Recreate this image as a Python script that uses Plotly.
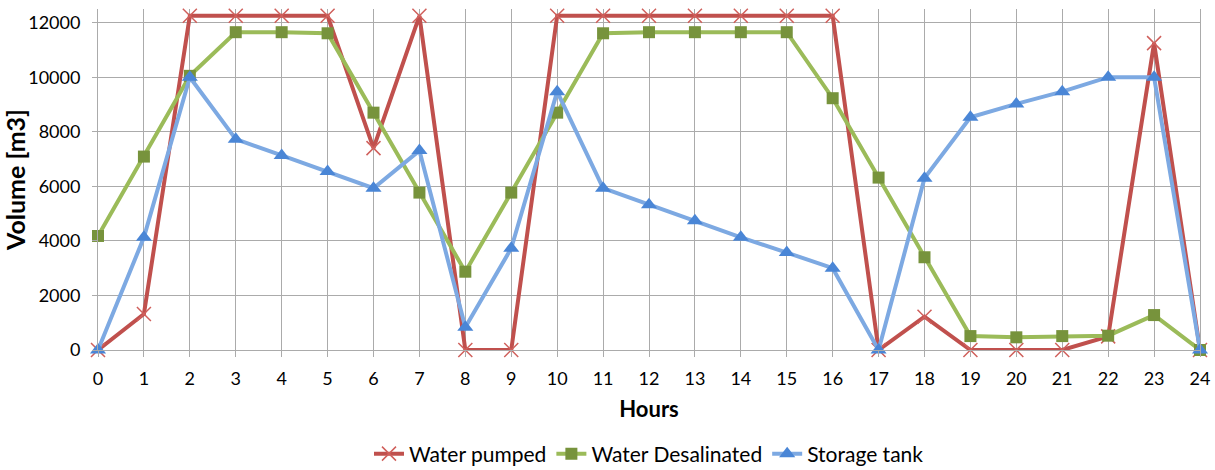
import plotly.graph_objects as go

hours = list(range(25))
water_pumped = [0, 1320, 12250, 12250, 12250, 12250, 7400, 12250, 0, 0,
                12250, 12250, 12250, 12250, 12250, 12250, 12250, 0, 1220, 0,
                0, 0, 500, 11250, 0]
water_desalinated = [4180, 7090, 10050, 11650, 11650, 11610, 8700, 5770, 2870, 5770,
                     8700, 11610, 11650, 11650, 11650, 11650, 9230, 6320, 3400, 510,
                     465, 510, 525, 1280, 0]
storage_tank = [0, 4130, 10000, 7730, 7130, 6540, 5930, 7310, 830, 3730,
                9470, 5930, 5320, 4740, 4130, 3570, 3000, 0, 6300, 8530,
                9020, 9470, 10000, 10000, 0]
y_ticks = [0, 2000, 4000, 6000, 8000, 10000, 12000]

FONT = "Lato"

fig = go.Figure()
fig.add_trace(go.Scatter(
    x=hours, y=water_pumped, name="Water pumped", mode="lines+markers",
    line=dict(color="#C0504D", width=4),
    marker=dict(symbol="x-thin-open", size=14, color="#D0605C",
                line=dict(color="#D0605C", width=1.5)),
    cliponaxis=False))
fig.add_trace(go.Scatter(
    x=hours, y=water_desalinated, name="Water Desalinated", mode="lines+markers",
    line=dict(color="#9BBB59", width=4),
    marker=dict(symbol="square", size=12, color="#77933C"),
    cliponaxis=False))
fig.add_trace(go.Scatter(
    x=hours, y=storage_tank, name="Storage tank", mode="lines+markers",
    line=dict(color="#7DA9E2", width=4),
    marker=dict(symbol="triangle-up", size=14, color="#4A86D6"),
    cliponaxis=False))

fig.update_layout(
    width=1215, height=470,
    margin=dict(l=98, r=15, t=9, b=120, autoexpand=False),
    paper_bgcolor="white", plot_bgcolor="white",
    font=dict(family=FONT, size=18, color="black"),
    showlegend=True,
    legend=dict(orientation="h", x=0.5, xanchor="center", y=-0.305, yanchor="middle",
                font=dict(family=FONT, size=21, color="black"),
                itemwidth=30, traceorder="normal", tracegroupgap=0,
                borderwidth=0),
    xaxis=dict(
        range=[0, 24], tickmode="array", tickvals=hours,
        ticktext=[str(h) for h in hours],
        showgrid=True, gridcolor="#ABABAB", gridwidth=1,
        showline=True, linecolor="#ABABAB", linewidth=1,
        ticks="outside", ticklen=6, tickcolor="#ABABAB",
        ticklabelstandoff=6,
        zeroline=False,
        tickfont=dict(family=FONT, size=18),
        title=dict(text="<b>Hours</b>", font=dict(family=FONT, size=22), standoff=14),
    ),
    yaxis=dict(
        range=[0, 12500], tickmode="array", tickvals=y_ticks,
        ticktext=[str(v) for v in y_ticks],
        showgrid=True, gridcolor="#ABABAB", gridwidth=1,
        showline=True, linecolor="#ABABAB", linewidth=1, mirror=True,
        ticks="outside", ticklen=5, tickcolor="#ABABAB", zeroline=False,
        ticklabelstandoff=8,
        tickfont=dict(family=FONT, size=18),
        title=dict(text="<b>Volume [m3]</b>", font=dict(family=FONT, size=25), standoff=8),
    ),
)

fig.write_html("out.html")
